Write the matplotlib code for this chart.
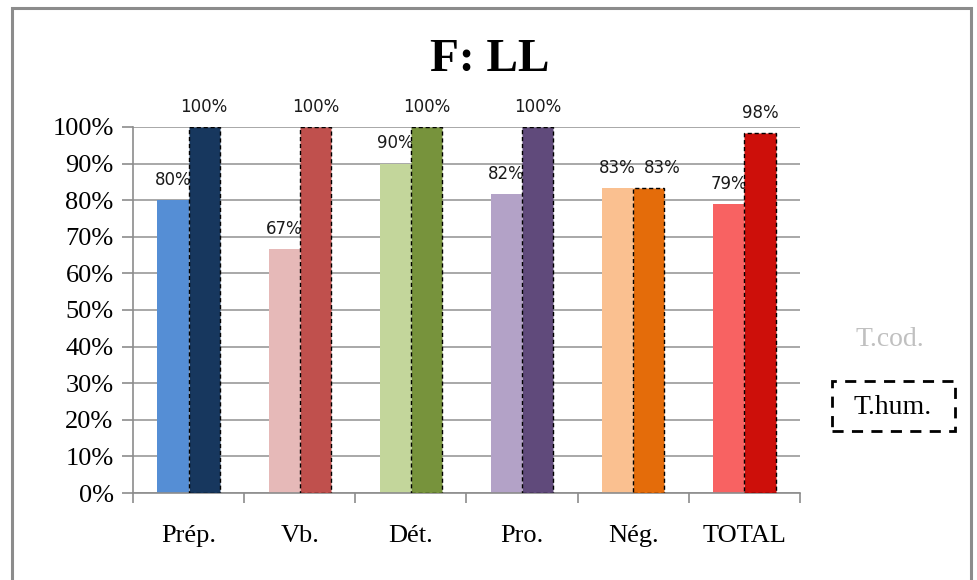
import matplotlib
matplotlib.use("Agg")
import matplotlib.pyplot as plt
from matplotlib.patches import Rectangle
import numpy as np

categories = ["Prép.", "Vb.", "Dét.", "Pro.", "Nég.", "TOTAL"]
t_cod = [80, 66.7, 90, 81.8, 83.3, 79]
t_hum = [100, 100, 100, 100, 83.3, 98.4]
cod_labels = ["80%", "67%", "90%", "82%", "83%", "79%"]
hum_labels = ["100%", "100%", "100%", "100%", "83%", "98%"]
cod_colors = ["#558ED5", "#E6B9B8", "#C3D69B", "#B3A2C7", "#FAC090", "#F86262"]
hum_colors = ["#17375E", "#C0504D", "#77933C", "#604A7B", "#E46C0A", "#CD0F0A"]
yticks = list(range(0, 101, 10))
ytick_labels = [f"{v}%" for v in yticks]

W, H = 978, 580
fig = plt.figure(figsize=(W / 100, H / 100), dpi=100)
serif = "Liberation Serif"

# outer frame
fig.patches.append(Rectangle((12 / W, -0.05), (971 - 12) / W, (H - 8) / H + 0.05,
                             transform=fig.transFigure, fill=False,
                             edgecolor="#8C8C8C", linewidth=2.2))

ax = fig.add_axes([133 / W, (H - 493) / H, (800 - 133) / W, (493 - 127) / H])
x = np.arange(len(categories))
bw = 0.28
cod_bars = ax.bar(x - bw / 2, t_cod, bw, color=cod_colors, zorder=2)
hum_bars = ax.bar(x + bw / 2, t_hum, bw, color=hum_colors, edgecolor="black",
                  linewidth=1.0, linestyle=(0, (3, 2)), zorder=3)

for b, lab in zip(cod_bars, cod_labels):
    ax.annotate(lab, (b.get_x() + b.get_width() / 2, b.get_height()),
                xytext=(0, 8), textcoords="offset points", ha="center", va="bottom",
                fontsize=12, family="DejaVu Sans", color="#1A1A1A", zorder=2.5)
for bc, b, lab in zip(cod_bars, hum_bars, hum_labels):
    # nudge label right when it would collide with the neighbouring label
    dx = 9.5 if abs(b.get_height() - bc.get_height()) < 6 else 0
    ax.annotate(lab, (b.get_x() + b.get_width() / 2, b.get_height()),
                xytext=(dx, 8), textcoords="offset points", ha="center", va="bottom",
                fontsize=12, family="DejaVu Sans", color="#1A1A1A", zorder=4,
                annotation_clip=False)

ax.set_xlim(-0.5, len(categories) - 0.5)
ax.set_ylim(0, 100)
ax.set_yticks(yticks)
ax.set_yticklabels(ytick_labels, fontsize=19, family=serif)
ax.yaxis.grid(True, color="#9A9A9A", linewidth=1.2, zorder=1)
ax.set_axisbelow(True)
ax.set_xticks(x)
ax.set_xticklabels(categories, fontsize=19, family=serif)
ax.set_xticks(np.arange(len(categories) + 1) - 0.5, minor=True)
ax.tick_params(axis="x", which="major", length=0, pad=23)
ax.tick_params(axis="x", which="minor", length=7, color="#8C8C8C", width=1.2)
ax.tick_params(axis="y", length=8, color="#8C8C8C", width=1.2, pad=6)
for s in ["top", "right"]:
    ax.spines[s].set_visible(False)
for s in ["left", "bottom"]:
    ax.spines[s].set_color("#8C8C8C")
    ax.spines[s].set_linewidth(1.2)

fig.text(490 / W, 1 - 60 / H, "F: LL", ha="center", va="center",
         fontsize=34, fontweight="bold", family=serif)

fig.text(890 / W, 1 - 340 / H, "T.cod.", ha="center", va="center",
         fontsize=20, family=serif, color="#C0C0C0")
fig.text(893 / W, 1 - 408 / H, "T.hum.", ha="center", va="center",
         fontsize=20, family=serif, color="black")
fig.patches.append(Rectangle((832 / W, 1 - 431 / H), (955 - 832) / W, (431 - 381) / H,
                             transform=fig.transFigure, fill=False,
                             edgecolor="black", linewidth=2, linestyle=(0, (4, 3))))

fig.savefig("out.png", dpi=100)
